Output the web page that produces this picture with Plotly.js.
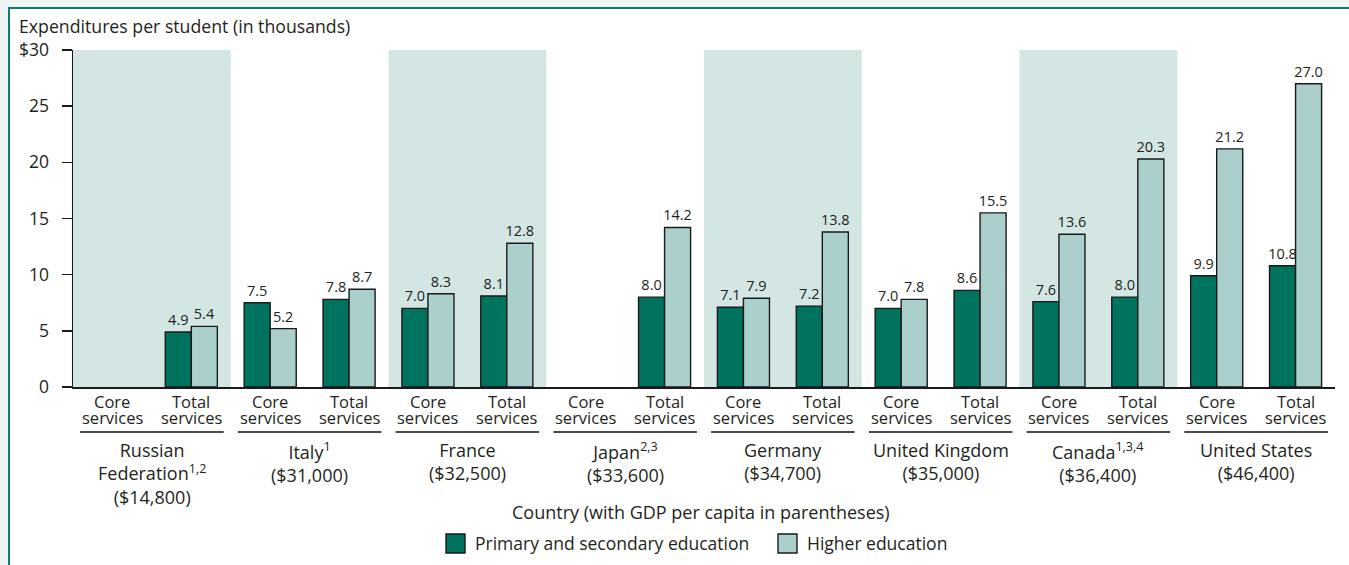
<!DOCTYPE html>
<html>
<head>
<meta charset="utf-8">
<script src="https://cdn.plot.ly/plotly-3.0.1.min.js"></script>
<style>
  html, body { margin: 0; padding: 0; background: #eef3f3; width: 1349px; height: 565px; overflow: hidden; }
  #frame { position: absolute; left: 8px; top: 7px; width: 1345px; height: 562px; background: #ffffff;
           border-left: 2px solid #0d7a6c; border-top: 2px solid #0d7a6c; }
  #chart { position: absolute; left: 0; top: 0; width: 1349px; height: 565px; }
</style>
</head>
<body>
<div id="frame"></div>
<div id="chart"></div>
<script>
// ---- Data ----
const countries = ["Russian<br>Federation<sup>1,2</sup><br>($14,800)", "Italy<sup>1</sup><br>($31,000)",
  "France<br>($32,500)", "Japan<sup>2,3</sup><br>($33,600)", "Germany<br>($34,700)",
  "United Kingdom<br>($35,000)", "Canada<sup>1,3,4</sup><br>($36,400)", "United States<br>($46,400)"];
const serviceTypes = ["Core", "Total"];
const serviceWord = "services";
// order: for each country, Core then Total
const primarySecondary = [null, 4.9, 7.5, 7.8, 7.0, 8.1, null, 8.0, 7.1, 7.2, 7.0, 8.6, 7.6, 8.0, 9.9, 10.8];
const higherEd =         [null, 5.4, 5.2, 8.7, 8.3, 12.8, null, 14.2, 7.9, 13.8, 7.8, 15.5, 13.6, 20.3, 21.2, 27.0];
const yTickVals = [0, 5, 10, 15, 20, 25, 30];
const yTickText = ["0", "5", "10", "15", "20", "25", "$30"];
const seriesNames = ["Primary and secondary education", "Higher education"];
const yTitle = "Expenditures per student (in thousands)";
const xTitle = "Country (with GDP per capita in parentheses)";

// ---- Styling ----
const darkC = "#00735f";
const lightC = "#abcfcc";
const shadeC = "#d3e6e4";
const txtC = "#231f20";
const FONT = "Open Sans, sans-serif";

const L = 73, R = 14, T = 50, B = 178, W = 1349, H = 565;
const pw = W - L - R, ph = H - T - B;
const px2x = p => (p - L) / pw;
const py2y = p => (H - B - p) / ph;

const nCat = countries.length * serviceTypes.length;
const allX = Array.from({length: nCat}, (_, i) => i);
const keep = allX.filter(i => primarySecondary[i] !== null || higherEd[i] !== null);
const fmt = v => (v === null ? "" : v.toFixed(1));

function barTrace(name, vals, color) {
  return { type: "bar", name: name, x: keep, y: keep.map(i => vals[i]),
    text: keep.map(i => fmt(vals[i])), textposition: "outside", constraintext: "none",
    cliponaxis: false, textfont: {family: FONT, size: 14.5, color: txtC},
    marker: {color: color, line: {color: "#1a1a1a", width: 1.4}}, hoverinfo: "y+name" };
}
const traces = [barTrace(seriesNames[0], primarySecondary, darkC), barTrace(seriesNames[1], higherEd, lightC)];

const shapes = [];
const annotations = [];
countries.forEach((c, k) => {
  const x0 = 2 * k - 0.5, x1 = 2 * k + 1.5;
  if (k % 2 === 0) {
    shapes.push({type: "rect", xref: "x", yref: "y", x0: x0, x1: x1, y0: 0, y1: 30,
      fillcolor: shadeC, line: {width: 0}, layer: "below"});
  }
  shapes.push({type: "line", xref: "x", yref: "paper", x0: x0 + 0.09, x1: x1 - 0.09,
    y0: py2y(432), y1: py2y(432), line: {color: "#4a4a4a", width: 2}});
  annotations.push({xref: "x", yref: "paper", x: 2 * k + 0.5, y: py2y(436), xanchor: "center", yanchor: "top",
    text: c, showarrow: false, align: "center", font: {family: FONT, size: 18, color: txtC}});
});
allX.forEach(i => {
  annotations.push({xref: "x", yref: "paper", x: i, y: py2y(401), yanchor: "middle", xanchor: "center",
    text: serviceTypes[i % 2], showarrow: false, font: {family: FONT, size: 16.5, color: txtC}});
  annotations.push({xref: "x", yref: "paper", x: i, y: py2y(417), yanchor: "middle", xanchor: "center",
    text: serviceWord, showarrow: false, font: {family: FONT, size: 16.5, color: txtC}});
});
// x axis title
annotations.push({xref: "paper", yref: "paper", x: px2x(700.5), y: py2y(512), xanchor: "center", yanchor: "middle",
  text: xTitle, showarrow: false, font: {family: FONT, size: 18, color: txtC}});
// legend
const legendItems = [{sq: 446, tx: 473, color: darkC, name: seriesNames[0]},
                     {sq: 778, tx: 805, color: lightC, name: seriesNames[1]}];
legendItems.forEach(it => {
  shapes.push({type: "rect", xref: "paper", yref: "paper", x0: px2x(it.sq), x1: px2x(it.sq + 19),
    y0: py2y(553), y1: py2y(534), fillcolor: it.color, line: {color: "#1a1a1a", width: 1.4}});
  annotations.push({xref: "paper", yref: "paper", x: px2x(it.tx), y: py2y(543), xanchor: "left", yanchor: "middle",
    text: it.name, showarrow: false, font: {family: FONT, size: 17.5, color: txtC}});
});

const layout = {
  width: W, height: H,
  margin: {l: L, r: R, t: T, b: B, pad: 0},
  paper_bgcolor: "rgba(0,0,0,0)", plot_bgcolor: "rgba(0,0,0,0)",
  font: {family: FONT, color: txtC, size: 16},
  showlegend: false,
  barmode: "group", bargap: 0.34, bargroupgap: 0,
  title: {text: yTitle, xref: "container", yref: "container", x: 19 / W, xanchor: "left",
          y: 1 - 27 / H, yanchor: "middle", font: {family: FONT, size: 17.7, color: txtC}},
  xaxis: {range: [-0.5, nCat - 0.5], showline: true, linecolor: "#1a1a1a", linewidth: 1.5,
          showticklabels: false, ticks: "", showgrid: false, zeroline: false, fixedrange: true},
  yaxis: {range: [0, 30], tickvals: yTickVals, ticktext: yTickText, showline: true, linecolor: "#1a1a1a",
          linewidth: 1.5, ticks: "outside", ticklen: 10, tickwidth: 1.5, tickcolor: "#1a1a1a",
          ticklabelstandoff: 9, showgrid: false, zeroline: false, fixedrange: true,
          tickfont: {family: FONT, size: 17.5, color: txtC}},
  shapes: shapes,
  annotations: annotations
};

Plotly.newPlot("chart", traces, layout, {displayModeBar: false, staticPlot: true});
</script>
</body>
</html>
